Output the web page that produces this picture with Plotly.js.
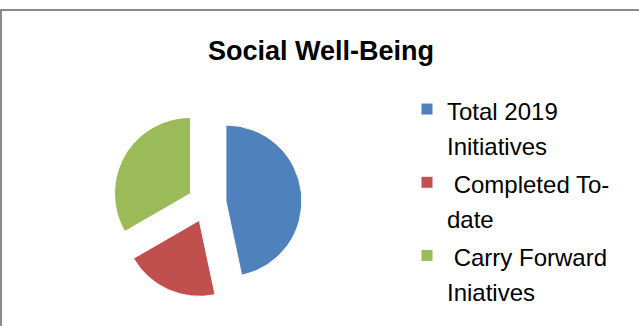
<!DOCTYPE html>
<html>
<head>
<meta charset="utf-8">
<script src="https://cdn.plot.ly/plotly-3.0.1.min.js"></script>
<style>html,body{margin:0;padding:0;background:#fff;}#chart{width:639px;height:326px;}</style>
</head>
<body>
<div id="chart"></div>
<script>
const labels = ["Total 2019<br>Initiatives", "\u00a0Completed To-<br>date", "\u00a0Carry Forward<br>Iniatives"];
const values = [14, 6, 10];
const colors = ["#4F81BD", "#C0504D", "#9BBB59"];
const chartTitle = "Social Well-Being";

const W = 639, H = 326;
const legendLabels = labels.map(function (s) {
  return s.split("<br>").map(function (p) { return '<span style="font-size:24px">' + p + '</span>'; }).join("<br>");
});

const trace = {
  type: "pie",
  labels: legendLabels,
  values: values,
  sort: false,
  direction: "clockwise",
  rotation: 0,
  pull: [0.25, 0.25, 0.25],
  textinfo: "none",
  hoverinfo: "value",
  marker: {colors: colors, line: {color: "#ffffff", width: 1}},
  domain: {x: [112 / W, 302 / W], y: [1 - 298 / H, 1 - 108 / H]}
};

const layout = {
  width: W, height: H,
  margin: {l: 0, r: 0, t: 0, b: 0},
  paper_bgcolor: "#ffffff",
  font: {family: "Liberation Sans, Arial, sans-serif", color: "#000"},
  title: {
    text: "<b>" + chartTitle + "</b>",
    font: {size: 27, family: "Liberation Sans, Arial, sans-serif", color: "#000"},
    x: 321 / W, xanchor: "center",
    y: 1 - 51 / H, yanchor: "middle"
  },
  showlegend: true,
  legend: {
    x: 407 / W, xanchor: "left",
    y: 1 - 85 / H, yanchor: "top",
    valign: "top",
    font: {size: 27, color: "#000"},
    bgcolor: "rgba(0,0,0,0)",
    traceorder: "normal"
  },
  shapes: [{
    type: "rect", xref: "paper", yref: "paper",
    x0: 1 / W, x1: 1.05, y0: -0.05, y1: 1 - 10 / H,
    line: {color: "#8a8a8a", width: 2}, fillcolor: "rgba(0,0,0,0)"
  }]
};

Plotly.newPlot("chart", [trace], layout, {staticPlot: true, displayModeBar: false});
</script>
</body>
</html>
